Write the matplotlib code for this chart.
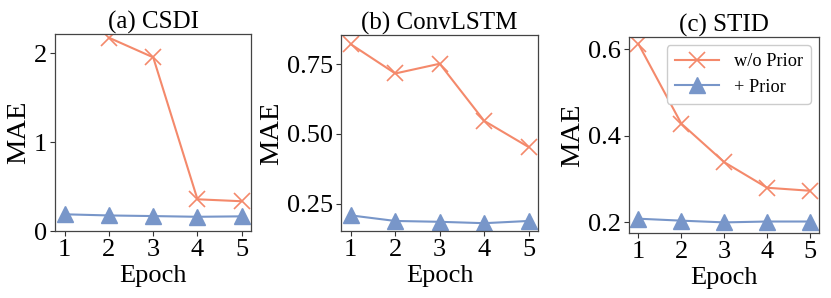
import numpy as np
import matplotlib
matplotlib.use("Agg")
import matplotlib.pyplot as plt

plt.rcParams['font.family'] = ['Liberation Serif', 'DejaVu Serif']

epochs = [1, 2, 3, 4, 5]
titles = ["(a) CSDI", "(b) ConvLSTM", "(c) STID"]

csdi_wo = [np.nan, 2.176, 1.955, 0.357, 0.335]
csdi_plus = [0.188, 0.175, 0.168, 0.160, 0.165]
conv_wo = [0.822, 0.717, 0.752, 0.547, 0.453]
conv_plus = [0.208, 0.188, 0.185, 0.180, 0.188]
stid_wo = [0.612, 0.428, 0.339, 0.280, 0.273]
stid_plus = [0.2085, 0.204, 0.200, 0.202, 0.202]

wo_series = [csdi_wo, conv_wo, stid_wo]
plus_series = [csdi_plus, conv_plus, stid_plus]

ylims = [(0, 2.218), (0.152, 0.855), (0.1755, 0.628)]
yticks = [[0, 1, 2], [0.25, 0.50, 0.75], [0.2, 0.4, 0.6]]
yticklabels = [["0", "1", "2"], ["0.25", "0.50", "0.75"], ["0.2", "0.4", "0.6"]]

orange = '#F4896B'
blue = '#7896C9'

W, H = 831, 298
fig = plt.figure(figsize=(W / 100, H / 100), dpi=100)

# axes boxes in pixels: left, right, top, bottom
boxes = [(55, 251, 34, 231), (341, 538, 35, 231), (629, 819, 37, 233)]

for i, (l, r, t, b) in enumerate(boxes):
    ax = fig.add_axes([l / W, 1 - b / H, (r - l) / W, (b - t) / H])
    ax.plot(epochs, wo_series[i], color=orange, marker='x', markersize=11,
            markeredgewidth=1.2, linewidth=1.5, label='w/o Prior')
    ax.plot(epochs, plus_series[i], color=blue, marker='^', markersize=11,
            linewidth=1.5, label='+ Prior')
    ax.set_xlim(0.78, 5.21)
    ax.set_ylim(*ylims[i])
    ax.set_xticks(epochs)
    ax.set_xticklabels([str(e) for e in epochs])
    ax.set_yticks(yticks[i])
    ax.set_yticklabels(yticklabels[i])
    ax.tick_params(labelsize=19, length=3.5, width=0.8, colors='#333333', labelcolor='black', pad=2)
    for s in ax.spines.values():
        s.set_color('#444444')
        s.set_linewidth(0.9)
    ax.set_title(titles[i], fontsize=18, pad=4)
    ax.set_xlabel('Epoch', fontsize=19, labelpad=3)
    ax.set_ylabel('MAE', fontsize=20.5, labelpad=2)
    if i == 2:
        ax.legend(loc='upper right', fontsize=13.2, frameon=True, fancybox=True,
                  edgecolor='#cccccc', framealpha=1, handlelength=2.4,
                  borderpad=0.45, labelspacing=0.45, borderaxespad=0.45)

fig.savefig('out.png', dpi=100)
